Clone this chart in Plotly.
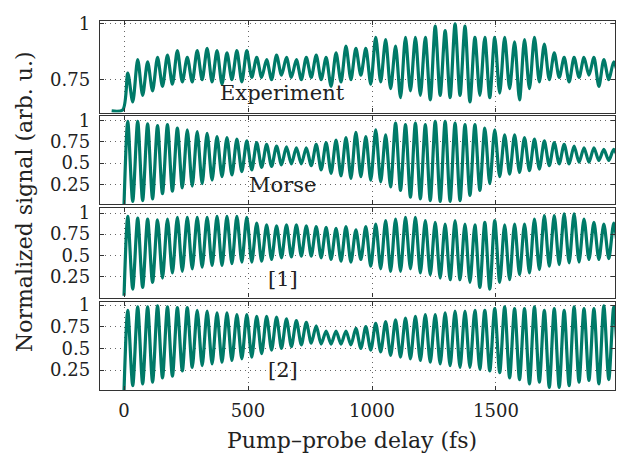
import numpy as np
import plotly.graph_objects as go
from plotly.subplots import make_subplots

# ---- data (extrema of each vibrational cycle) ----
period_fs = 40
first_peak_fs = 15

exp_pre_t = [-50, -5]
exp_pre_v = [0.61, 0.615]
exp_peaks = [0.78, 0.84, 0.83, 0.85, 0.86, 0.88, 0.85, 0.88, 0.89, 0.88, 0.87, 0.88, 0.88,
             0.85, 0.84, 0.86, 0.85, 0.84, 0.85, 0.86, 0.85, 0.87, 0.90,
             0.89, 0.89, 0.94, 0.93, 0.90, 0.94, 0.94, 0.94, 0.99, 0.97, 1.00, 0.99, 0.94, 0.94,
             0.94, 0.94, 0.92, 0.93, 0.94, 0.91, 0.87, 0.85, 0.85, 0.85, 0.85, 0.84, 0.83]
exp_troughs = [0.65, 0.68, 0.70, 0.72, 0.73, 0.74, 0.74, 0.75, 0.74, 0.73, 0.75, 0.74, 0.76,
               0.76, 0.75, 0.77, 0.76, 0.75, 0.76, 0.75, 0.72, 0.74, 0.75,
               0.77, 0.73, 0.74, 0.71, 0.67, 0.70, 0.68, 0.66, 0.68, 0.67, 0.68, 0.65, 0.68, 0.67,
               0.69, 0.71, 0.66, 0.71, 0.74, 0.75, 0.76, 0.74, 0.76, 0.77, 0.72, 0.75, 0.76]

sim_start_t = [0]
sim_start_v = [0.02]
morse_peaks = [0.99, 0.99, 0.96, 0.94, 0.95, 0.91, 0.89, 0.87, 0.85, 0.81, 0.80, 0.78, 0.76,
               0.74, 0.72, 0.70, 0.69, 0.68, 0.68, 0.72, 0.74, 0.77, 0.80,
               0.86, 0.81, 0.89, 0.83, 0.97, 0.95, 0.97, 0.95, 0.99, 0.99, 0.97, 0.95, 0.95, 0.91,
               0.89, 0.83, 0.83, 0.80, 0.78, 0.76, 0.74, 0.72, 0.70, 0.68, 0.68, 0.66, 0.66]
morse_troughs = [0.05, 0.06, 0.08, 0.14, 0.17, 0.21, 0.23, 0.26, 0.30, 0.34, 0.36, 0.40, 0.42,
                 0.45, 0.46, 0.48, 0.49, 0.49, 0.47, 0.42, 0.38, 0.35, 0.32,
                 0.34, 0.30, 0.28, 0.22, 0.18, 0.10, 0.08, 0.06, 0.05, 0.05, 0.06, 0.12, 0.18, 0.26,
                 0.34, 0.37, 0.39, 0.41, 0.43, 0.47, 0.49, 0.49, 0.51, 0.51, 0.53, 0.53, 0.54]

ref1_peaks = [0.96, 0.94, 0.93, 0.92, 0.93, 0.95, 0.95, 0.95, 0.95, 0.96, 0.96, 0.96, 0.95,
              0.88, 0.86, 0.85, 0.86, 0.86, 0.85, 0.84, 0.83, 0.82, 0.84,
              0.80, 0.84, 0.87, 0.91, 0.93, 0.95, 0.95, 0.91, 0.89, 0.87, 0.91, 0.87, 0.86, 0.89,
              0.91, 0.86, 0.87, 0.87, 0.93, 0.97, 0.97, 0.99, 0.99, 0.93, 0.89, 0.87, 0.88]
ref1_troughs = [0.10, 0.12, 0.18, 0.23, 0.29, 0.31, 0.34, 0.36, 0.38, 0.38, 0.40, 0.42, 0.42,
                0.43, 0.45, 0.47, 0.48, 0.49, 0.49, 0.47, 0.45, 0.43, 0.42,
                0.45, 0.37, 0.34, 0.31, 0.31, 0.34, 0.29, 0.27, 0.23, 0.21, 0.21, 0.18, 0.12, 0.10,
                0.18, 0.21, 0.27, 0.29, 0.33, 0.37, 0.39, 0.41, 0.42, 0.45, 0.45, 0.46, 0.46]

ref2_peaks = [0.94, 0.98, 0.98, 0.99, 0.98, 0.97, 0.97, 0.94, 0.93, 0.91, 0.91, 0.89, 0.89,
              0.87, 0.87, 0.86, 0.84, 0.82, 0.80, 0.76, 0.70, 0.70, 0.70,
              0.73, 0.75, 0.79, 0.81, 0.83, 0.85, 0.87, 0.89, 0.89, 0.91, 0.93, 0.93, 0.94, 0.94,
              0.96, 0.98, 0.96, 0.96, 0.98, 0.94, 0.96, 0.94, 0.98, 0.96, 0.96, 0.99, 0.98]
ref2_troughs = [0.07, 0.09, 0.11, 0.16, 0.18, 0.24, 0.28, 0.30, 0.32, 0.34, 0.36, 0.38, 0.40,
                0.44, 0.48, 0.50, 0.52, 0.54, 0.56, 0.55, 0.55, 0.55, 0.54,
                0.50, 0.48, 0.46, 0.42, 0.40, 0.38, 0.36, 0.34, 0.32, 0.30, 0.28, 0.28, 0.26, 0.24,
                0.22, 0.16, 0.14, 0.09, 0.11, 0.05, 0.05, 0.07, 0.11, 0.13, 0.09, 0.14, 0.13]

panel_labels = ["Experiment", "Morse", "[1]", "[2]"]
x_ticks = [0, 500, 1000, 1500]
y_ticks_top = [0.75, 1]
y_ticks_sim = [0.25, 0.5, 0.75, 1]


def build(pre_t, pre_v, peaks, troughs):
    vals = np.empty(2 * len(peaks))
    vals[0::2] = peaks
    vals[1::2] = troughs
    t = first_peak_fs + period_fs / 2 * np.arange(len(vals))
    return np.concatenate([pre_t, t]), np.concatenate([pre_v, vals])


series = [
    build(exp_pre_t, exp_pre_v, exp_peaks, exp_troughs),
    build(sim_start_t, sim_start_v, morse_peaks, morse_troughs),
    build(sim_start_t, sim_start_v, ref1_peaks, ref1_troughs),
    build(sim_start_t, sim_start_v, ref2_peaks, ref2_troughs),
]

LINE = "#007A68"
FONT = "DejaVu Serif"
TXT = "#222222"

fig = make_subplots(rows=4, cols=1, shared_xaxes=True, vertical_spacing=0.01)

for i, (t, v) in enumerate(series):
    fig.add_trace(go.Scatter(x=t, y=v, mode="lines",
                             line=dict(color=LINE, width=3.2, shape="spline", smoothing=0.8),
                             showlegend=False, hoverinfo="skip"), row=i + 1, col=1)

H_TOP, H_BOT = 21, 69
PH = 459 - H_TOP - H_BOT


def dom(top_px, bot_px):
    return [max(0, (390 - bot_px) / PH), min(1, (390 - top_px) / PH)]


domains = [dom(21, 112.5), dom(115.5, 204), dom(208, 297.5), dom(302, 390)]
yranges = [[0.603, 1.013], [0.02, 1.058], [0.0, 1.06], [0.02, 1.035]]
label_y = [0.692, 0.24, 0.22, 0.25]

axis_common = dict(showline=True, linecolor="#333333", linewidth=1.4, mirror="ticks",
                   ticks="inside", ticklen=4, tickcolor="#333333", automargin=False,
                   showgrid=True, gridcolor="#666666", griddash="1px,4px", gridwidth=1,
                   zeroline=False,
                   tickfont=dict(family=FONT, size=18, color=TXT))

for i in range(4):
    n = "" if i == 0 else str(i + 1)
    fig.layout["xaxis" + n].update(range=[-97, 1980], tickvals=x_ticks,
                                   showticklabels=(i == 3), ticklabelstandoff=4,
                                   **axis_common)
    yt = y_ticks_top if i == 0 else y_ticks_sim
    fig.layout["yaxis" + n].update(domain=domains[i], range=yranges[i], tickvals=yt,
                                   ticktext=[("%g" % y) for y in yt], ticklabelstandoff=5,
                                   **axis_common)
    fig.add_annotation(text=panel_labels[i], x=641, y=label_y[i],
                       xref="x" + n, yref="y" + n, showarrow=False,
                       font=dict(family=FONT, size=21, color=TXT),
                       xanchor="center", yanchor="middle")

fig.add_annotation(text="Pump\u2013probe delay (fs)", xref="paper", yref="paper",
                   x=0.49, y=(390 - 440) / PH, showarrow=False, xanchor="center",
                   yanchor="middle", font=dict(family=FONT, size=22, color=TXT))
fig.add_annotation(text="Normalized signal (arb. u.)", xref="paper", yref="paper",
                   x=0, xshift=-76, y=(390 - 202) / PH, showarrow=False, textangle=-90,
                   xanchor="center", yanchor="middle",
                   font=dict(family=FONT, size=22, color=TXT))

fig.update_layout(width=617, height=459, margin=dict(l=100, r=2, t=H_TOP, b=H_BOT,
                                                     autoexpand=False),
                  plot_bgcolor="white", paper_bgcolor="white")

fig.write_html("out.html", config={"displayModeBar": False},
               post_script="document.body.style.margin='0';document.body.style.overflow='hidden';")
